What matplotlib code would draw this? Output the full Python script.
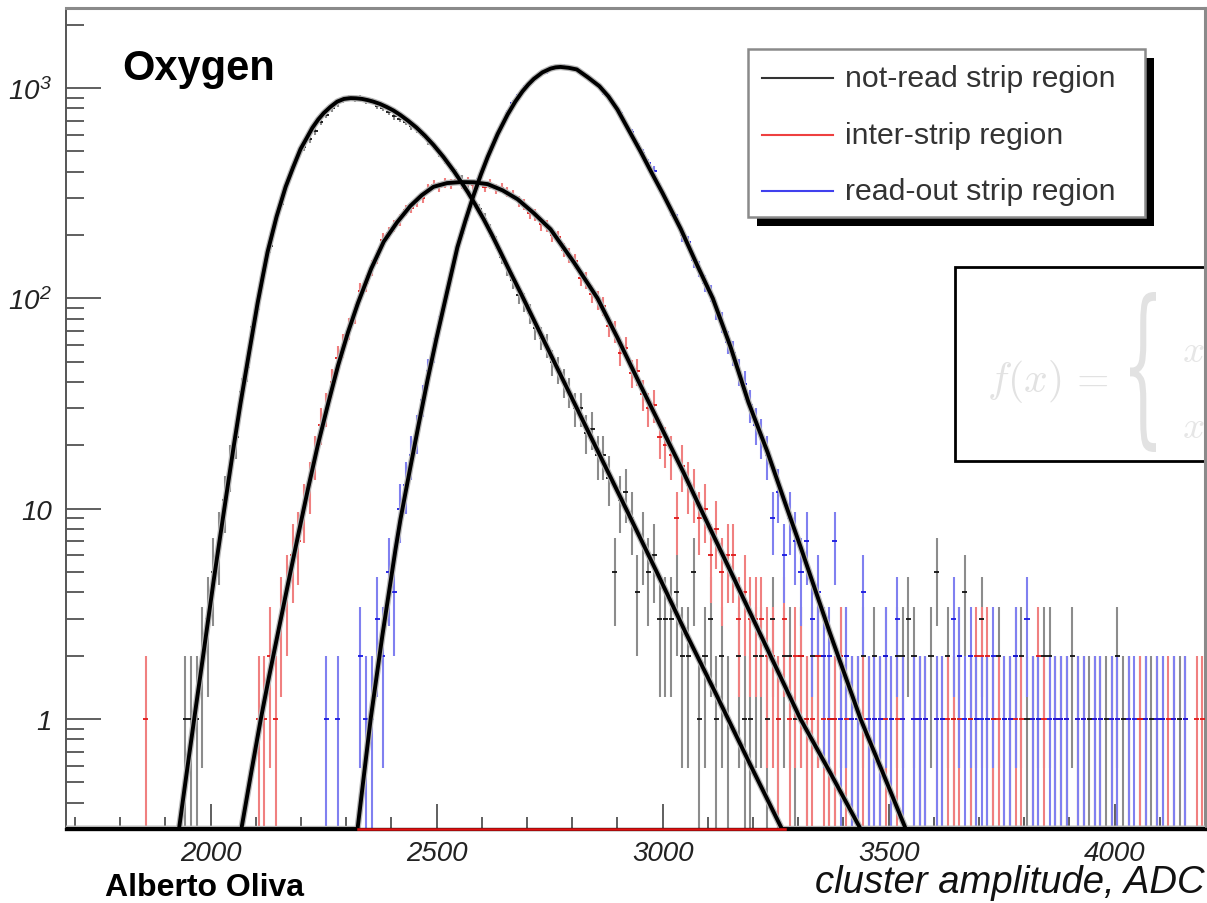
import numpy as np
import matplotlib
matplotlib.use("Agg")
import matplotlib.pyplot as plt
from matplotlib.patches import Rectangle, PathPatch
from matplotlib.lines import Line2D
from matplotlib.ticker import MultipleLocator, LogLocator, NullFormatter
from matplotlib.textpath import TextPath
from matplotlib.font_manager import FontProperties
from matplotlib.transforms import Affine2D

plt.rcParams["font.family"] = ["Liberation Sans", "DejaVu Sans"]
plt.rcParams["mathtext.fontset"] = "custom"
plt.rcParams["mathtext.rm"] = "Liberation Sans:italic"
plt.rcParams["mathtext.it"] = "Liberation Sans:italic"

# histogram binning: 200 bins of 12.5 ADC from 1700
bin_lo = 1700
bin_width = 12.5

# entries per bin, one row = 20 bins = 250 ADC
not_read_counts = [
    0, 0, 0, 0, 0, 0, 0, 0, 0, 0, 0, 0, 0, 0, 0, 0, 0, 0, 0, 1,
    1, 1, 2, 3, 5, 7, 11, 16, 22, 36, 47, 73, 98, 142, 178, 232, 280, 345, 420, 485,
    525, 570, 625, 690, 745, 800, 845, 880, 900, 890, 900, 870, 865, 825, 805, 770, 735, 715, 690, 660,
    635, 600, 560, 530, 490, 455, 420, 390, 365, 325, 290, 265, 238, 210, 185, 158, 140, 122, 104, 96,
    85, 72, 65, 60, 50, 46, 40, 36, 30, 30, 23, 24, 18, 18, 14, 5, 11, 12, 9, 4,
    7, 5, 6, 3, 3, 3, 4, 2, 2, 5, 1, 2, 3, 1, 2, 1, 0, 2, 1, 1,
    2, 2, 1, 3, 1, 2, 2, 1, 2, 1, 2, 2, 2, 1, 1, 2, 2, 1, 1, 2,
    1, 2, 1, 2, 1, 2, 2, 3, 2, 1, 1, 2, 5, 1, 2, 1, 2, 4, 1, 1,
    3, 1, 1, 2, 1, 1, 2, 2, 1, 1, 1, 2, 2, 1, 1, 1, 2, 1, 1, 1,
    1, 1, 1, 1, 2, 1, 1, 0, 1, 1, 1, 1, 1, 0, 1, 1, 1, 0, 0, 0,
]
inter_strip_counts = [
    0, 0, 0, 0, 0, 0, 0, 0, 0, 0, 0, 0, 1, 0, 0, 0, 0, 0, 0, 0,
    0, 0, 0, 0, 0, 0, 0, 0, 0, 0, 0, 0, 1, 1, 2, 1, 3, 4, 6, 7,
    10, 13, 18, 25, 30, 40, 52, 60, 72, 85, 108, 118, 140, 158, 190, 205, 222, 235, 262, 270,
    290, 300, 330, 345, 340, 355, 350, 365, 350, 360, 345, 360, 340, 350, 330, 335, 320, 310, 290, 280,
    255, 250, 225, 222, 200, 195, 170, 160, 150, 125, 122, 105, 98, 92, 74, 70, 55, 58, 44, 45,
    35, 30, 31, 22, 20, 18, 9, 16, 13, 12, 9, 10, 6, 8, 5, 6, 6, 3, 4, 3,
    3, 3, 2, 2, 1, 3, 1, 2, 2, 1, 1, 2, 1, 1, 1, 2, 1, 1, 1, 1,
    1, 1, 1, 1, 0, 1, 1, 0, 1, 1, 1, 0, 1, 0, 1, 1, 1, 0, 1, 2,
    2, 2, 1, 1, 0, 1, 1, 1, 0, 1, 2, 1, 0, 1, 1, 1, 0, 1, 1, 0,
    1, 1, 0, 1, 1, 0, 1, 0, 1, 1, 0, 1, 0, 1, 1, 0, 1, 0, 1, 1,
]
read_out_counts = [
    0, 0, 0, 0, 0, 0, 0, 0, 0, 0, 0, 0, 0, 0, 0, 0, 0, 0, 0, 0,
    0, 0, 0, 0, 0, 0, 0, 0, 0, 0, 0, 0, 0, 0, 0, 0, 0, 0, 0, 0,
    0, 0, 0, 0, 1, 0, 1, 0, 0, 0, 2, 1, 1, 3, 2, 5, 4, 10, 13, 18,
    23, 33, 45, 57, 74, 98, 128, 165, 205, 250, 305, 370, 435, 500, 575, 665, 760, 850, 930, 1000,
    1050, 1110, 1175, 1205, 1250, 1255, 1260, 1240, 1230, 1180, 1150, 1080, 1040, 960, 905, 820, 760, 670, 615, 540,
    490, 440, 405, 335, 300, 262, 236, 200, 185, 152, 138, 118, 106, 88, 77, 62, 55, 45, 39, 31,
    25, 22, 18, 9, 12, 6, 9, 7, 5, 7, 3, 4, 2, 2, 7, 1, 2, 1, 1, 4,
    1, 1, 1, 2, 1, 3, 1, 0, 1, 1, 1, 0, 1, 1, 0, 3, 2, 1, 2, 1,
    1, 1, 2, 0, 1, 1, 2, 0, 3, 1, 1, 0, 1, 1, 1, 1, 0, 1, 1, 0,
    1, 1, 0, 1, 1, 0, 1, 1, 0, 1, 0, 1, 1, 0, 1, 0, 1, 0, 0, 0,
]

# fitted curves (ADC, entries); 0.3 = bottom of the frame
not_read_fit_x = [1680, 1930, 1948, 1965, 1986, 2007, 2022, 2038, 2052, 2066, 2085, 2104, 2115,
                  2126, 2146, 2166, 2182, 2199, 2212, 2225, 2238, 2250, 2265, 2280, 2295, 2310,
                  2322, 2335, 2348, 2360, 2375, 2390, 2405, 2420, 2437, 2455, 2474, 2493, 2515,
                  2538, 2553, 2569, 2586, 2604, 2622, 2640, 2663, 2686, 2775, 2863, 2923, 2989,
                  3050, 3117, 3195, 3264, 4200]
not_read_fit_y = [0.3, 0.3, 0.575, 1.05, 2.19, 4.6, 7.6, 12.9, 20.4, 31.6, 55, 95, 126,
                  166, 245, 339, 417, 513, 575, 646, 708, 759, 813, 861, 887, 895,
                  893, 887, 875, 861, 839, 811, 780, 743, 698, 649, 593, 536, 470,
                  403, 361, 320, 278, 238, 201, 168, 133, 106, 42.9, 17.6, 9.6, 4.9,
                  2.6, 1.33, 0.6, 0.3, 0.3]
inter_strip_fit_x = [1680, 2068, 2090, 2111, 2130, 2150, 2171, 2192, 2215, 2237, 2260, 2282,
                     2304, 2326, 2355, 2383, 2412, 2442, 2467, 2493, 2523, 2553, 2583, 2613,
                     2646, 2679, 2715, 2752, 2804, 2856, 2900, 2945, 3046, 3084, 3157, 3230,
                     3305, 3370, 3438, 4200]
inter_strip_fit_y = [0.3, 0.3, 0.56, 1.0, 1.62, 2.63, 4.37, 7.2, 12.3, 20, 31.6, 48,
                     69, 95, 138, 186, 229, 275, 309, 339, 353, 357, 356, 349,
                     326, 296, 254, 213, 148, 100, 65, 41, 14.9, 10, 4.7, 2.19,
                     1.0, 0.56, 0.3, 0.3]
read_out_fit_x = [1680, 2325, 2354, 2380, 2409, 2420, 2440, 2460, 2480, 2500, 2523, 2546, 2564,
                  2582, 2598, 2613, 2635, 2657, 2674, 2690, 2703, 2715, 2734, 2752, 2763, 2774,
                  2792, 2810, 2835, 2860, 2880, 2900, 2925, 2951, 2975, 3000, 3040, 3075, 3111,
                  3150, 3190, 3232, 3272, 3305, 3370, 3438, 3488, 3538, 4200]
read_out_fit_y = [0.3, 0.3, 1.0, 2.5, 6.4, 8.9, 15, 25, 41, 65, 107, 175, 235,
                  310, 388, 470, 604, 748, 861, 964, 1040, 1104, 1186, 1236, 1253, 1259,
                  1247, 1225, 1122, 1020, 912, 790, 631, 500, 398, 316, 214, 146, 100,
                  59, 32, 18.6, 10.5, 6.6, 2.57, 1.0, 0.55, 0.3, 0.3]

# red line drawn along the bottom of the frame
floor_red_x = [2325, 3270]

labels = ["not-read strip region", "inter-strip region", "read-out strip region"]
x_ticks = [2000, 2500, 3000, 3500, 4000]
x_tick_labels = ["2000", "2500", "3000", "3500", "4000"]
y_ticks = [1, 10, 100, 1000]
y_tick_labels = ["1", "10", "$10^{2}$", "$10^{3}$"]

W, H = 1207, 904
fig = plt.figure(figsize=(W / 100, H / 100), dpi=100)
fig.patch.set_facecolor("white")


def fx(px):
    return px / W


def fy(py):
    return 1 - py / H


ax = fig.add_axes([fx(66), fy(830), (1205 - 66) / W, (830 - 9) / H])
ax.set_facecolor("none")
ax.set_yscale("log")
ax.set_xlim(1680, 4200)
ax.set_ylim(0.3, 2400)

centers = bin_lo + bin_width * (np.arange(len(not_read_counts)) + 0.5)

hist_styles = [
    (not_read_counts, "#8c8c8c", "#111111"),
    (inter_strip_counts, "#f08080", "#e01818"),
    (read_out_counts, "#8080f0", "#1818e0"),
]
for counts, bar_col, mark_col in hist_styles:
    n = np.array(counts, dtype=float)
    keep = n > 0
    xc = centers[keep]
    n = n[keep]
    err = np.sqrt(n)
    lo = np.maximum(n - err, 0.05)
    ax.vlines(xc, lo, n + err, color=bar_col, lw=1.5, zorder=2)
    ax.hlines(n, xc - bin_width * 0.45, xc + bin_width * 0.45, color=mark_col, lw=1.3, zorder=3)

for xs, ys in [(not_read_fit_x, not_read_fit_y),
               (inter_strip_fit_x, inter_strip_fit_y),
               (read_out_fit_x, read_out_fit_y)]:
    ax.plot(xs, ys, color="#b8b8b8", lw=4.6, zorder=4, solid_joinstyle="round")
    ax.plot(xs, ys, color="black", lw=2.8, zorder=5, solid_joinstyle="round")

ax.plot(floor_red_x, [0.3, 0.3], color="#e01010", lw=1.8, zorder=7, clip_on=False)

# axes and ticks, ROOT style
ax.spines["left"].set_color("#555555")
ax.spines["left"].set_linewidth(1.4)
ax.spines["bottom"].set_color("black")
ax.spines["bottom"].set_linewidth(2.4)
for s in ["top", "right"]:
    ax.spines[s].set_color("#8a8a8a")
    ax.spines[s].set_linewidth(2.2)
ax.spines["bottom"].set_zorder(6)

ax.set_xticks(x_ticks, x_tick_labels, fontsize=20, fontstyle="italic")
ax.xaxis.set_minor_locator(MultipleLocator(100))
ax.set_yticks(y_ticks, y_tick_labels, fontsize=20, fontstyle="italic")
ax.yaxis.set_minor_locator(LogLocator(base=10, subs=np.arange(2, 10)))
ax.yaxis.set_minor_formatter(NullFormatter())
ax.tick_params(axis="x", which="major", direction="in", length=18, width=1.2,
               color="#444444", pad=8, labelcolor="#222222")
ax.tick_params(axis="x", which="minor", direction="in", length=9, width=1.2, color="#444444")
ax.tick_params(axis="y", which="major", direction="in", length=25, width=1.2,
               color="#444444", pad=10, labelcolor="#222222")
ax.tick_params(axis="y", which="minor", direction="in", length=13, width=1.2, color="#444444")

# formula box sitting on the right edge (mostly washed out)
fig.add_artist(Rectangle((fx(955), fy(462)), (1230 - 955) / W, (462 - 268) / H,
                         transform=fig.transFigure, facecolor="white", edgecolor="black",
                         lw=2.0, zorder=-1, clip_on=False))
fig.text(fx(987), fy(392), r"$f(x)\,=$", math_fontfamily="cm", fontsize=30,
         color="#e2e2e2", zorder=-1)
brace = TextPath((0, 0), "{", size=100, prop=FontProperties(family="DejaVu Serif"))
ext = brace.get_extents()
tr = (Affine2D().translate(-ext.x0, -ext.y0)
      .scale(26 / ext.width / W, 160 / ext.height / H)
      .translate(fx(1130), fy(453)))
fig.add_artist(PathPatch(tr.transform_path(brace), transform=fig.transFigure,
                         facecolor="#e2e2e2", edgecolor="none", zorder=-1))
fig.text(fx(1182), fy(362), r"$x$", math_fontfamily="cm", fontsize=28, color="#e6e6e6", zorder=-1)
fig.text(fx(1182), fy(438), r"$x$", math_fontfamily="cm", fontsize=28, color="#e6e6e6", zorder=-1)

# legend box with shadow
fig.add_artist(Rectangle((fx(757), fy(227)), (1154 - 757) / W, (227 - 59) / H,
                         transform=fig.transFigure, facecolor="black", edgecolor="none", zorder=8))
fig.add_artist(Rectangle((fx(748), fy(218)), (1145 - 748) / W, (218 - 50) / H,
                         transform=fig.transFigure, facecolor="white", edgecolor="#8a8a8a",
                         lw=1.8, zorder=9))
for lab, col, py in zip(labels, ["#333333", "#ee4040", "#4040ee"], [79, 136, 192]):
    fig.add_artist(Line2D([fx(762), fx(833)], [fy(py), fy(py)], transform=fig.transFigure,
                          color=col, lw=1.5, zorder=10))
    fig.text(fx(845), fy(py), lab, fontsize=21.8, color="#333333", va="center", ha="left", zorder=10)

fig.text(fx(122), fy(80), "Oxygen", fontsize=30, fontweight="bold", color="black")
fig.text(fx(1205), fy(893), "cluster amplitude, ADC", fontsize=27.5, fontstyle="italic",
         ha="right", va="baseline", color="#111111")
fig.text(fx(105), fy(903), "Alberto Oliva", fontsize=23, fontweight="bold",
         family=["Liberation Sans Narrow", "Liberation Sans"], va="bottom", color="black")

fig.savefig("out.png", dpi=100, facecolor="white")
